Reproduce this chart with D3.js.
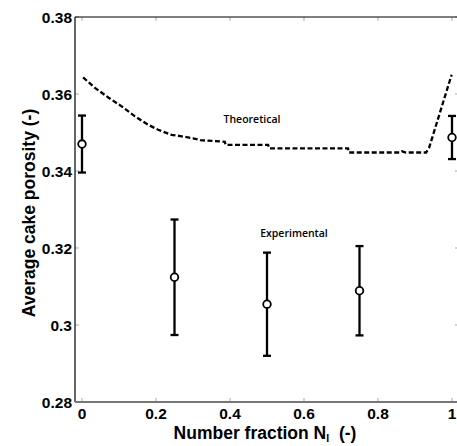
<!DOCTYPE html>
<html><head><meta charset="utf-8">
<script src="https://cdn.jsdelivr.net/npm/d3@7"></script>
<style>body{margin:0;background:#fff}svg{display:block}</style>
</head><body>
<svg id="c" width="457" height="446"></svg>
<script>
// Experimental data (mean ± error)
const expN = [0, 0.25, 0.5, 0.75, 1];
const expMean = [0.347, 0.3124, 0.3054, 0.3089, 0.3487];
const expErr = [0.0074, 0.0150, 0.0134, 0.0116, 0.0056];
// Theoretical curve
const theoN = [0.003, 0.035, 0.071, 0.107, 0.143, 0.179, 0.206, 0.242, 0.27, 0.30, 0.32, 0.386, 0.388, 0.503, 0.506, 0.719, 0.722, 0.86, 0.865, 0.875, 0.93, 0.938, 0.999];
const theoV = [0.3643, 0.3616, 0.3591, 0.3568, 0.3542, 0.3520, 0.3507, 0.3494, 0.3490, 0.3485, 0.3480, 0.3476, 0.3468, 0.3468, 0.3459, 0.3459, 0.3448, 0.3448, 0.3451, 0.3448, 0.3448, 0.3460, 0.3650];
const xTicks = [0, 0.2, 0.4, 0.6, 0.8, 1];
const yTicks = [0.28, 0.3, 0.32, 0.34, 0.36, 0.38];
const yTickLabels = ["0.28", "0.3", "0.32", "0.34", "0.36", "0.38"];

const svg = d3.select("#c");
const x = d3.scaleLinear().domain([0, 1]).range([82, 452]);
const y = d3.scaleLinear().domain([0.28, 0.38]).range([402, 17]);
const L = 75, R = 459, T = 17, B = 402;
const font = "Arial, 'Liberation Sans', sans-serif";

// ticks (inward, faint gray)
const tg = svg.append("g").attr("stroke", "#aaa").attr("stroke-width", 1);
xTicks.forEach(t => {
  tg.append("line").attr("x1", x(t)).attr("x2", x(t)).attr("y1", B).attr("y2", B - 4);
  tg.append("line").attr("x1", x(t)).attr("x2", x(t)).attr("y1", T).attr("y2", T + 4);
});
yTicks.forEach(t => {
  tg.append("line").attr("x1", L).attr("x2", L + 4).attr("y1", y(t)).attr("y2", y(t));
  tg.append("line").attr("x1", R - 4).attr("x2", R).attr("y1", y(t)).attr("y2", y(t));
});

// box
svg.append("line").attr("x1", L).attr("x2", R).attr("y1", T).attr("y2", T).attr("stroke", "#000").attr("stroke-width", 1.2);
svg.append("line").attr("x1", L).attr("x2", L).attr("y1", T).attr("y2", B).attr("stroke", "#000").attr("stroke-width", 1.2);
svg.append("line").attr("x1", L).attr("x2", R).attr("y1", B).attr("y2", B).attr("stroke", "#777").attr("stroke-width", 2);

// tick labels
svg.append("g").selectAll("text").data(xTicks).join("text")
  .attr("x", d => x(d)).attr("y", 419).attr("text-anchor", "middle")
  .attr("font-family", font).attr("font-weight", "bold").attr("font-size", 15.5)
  .text(d => String(d));
svg.append("g").selectAll("text").data(yTicks).join("text")
  .attr("x", 72).attr("y", d => y(d) + 5.5).attr("text-anchor", "end")
  .attr("font-family", font).attr("font-weight", "bold").attr("font-size", 15.5)
  .text((d, i) => yTickLabels[i]);

// axis titles
svg.append("text").attr("transform", "translate(35,213) rotate(-90)")
  .attr("text-anchor", "middle").attr("font-family", font).attr("font-weight", "bold").attr("font-size", 17.5)
  .text("Average cake porosity (-)");
const xl = svg.append("text").attr("x", 265).attr("y", 439).attr("text-anchor", "middle")
  .attr("font-family", font).attr("font-weight", "bold").attr("font-size", 17.5);
xl.append("tspan").text("Number fraction N");
xl.append("tspan").attr("dy", 3).attr("font-size", 10.5).text("I");
xl.append("tspan").attr("dy", -3).text("\u00a0\u00a0(-)");

// theoretical line
const line = d3.line().x((d, i) => x(theoN[i])).y(d => y(d));
svg.append("path").attr("d", line(theoV)).attr("fill", "none").attr("stroke", "#000")
  .attr("stroke-width", 2.3).attr("stroke-dasharray", "5,2.5");

// error bars
const eg = svg.append("g").attr("stroke", "#000").attr("stroke-width", 2.3).attr("fill", "none");
expN.forEach((n, i) => {
  const cx = x(n), top = y(expMean[i] + expErr[i]), bot = y(expMean[i] - expErr[i]);
  eg.append("line").attr("x1", cx).attr("x2", cx).attr("y1", top).attr("y2", bot);
  eg.append("line").attr("x1", cx - 4).attr("x2", cx + 4).attr("y1", top).attr("y2", top);
  eg.append("line").attr("x1", cx - 4).attr("x2", cx + 4).attr("y1", bot).attr("y2", bot);
  eg.append("circle").attr("cx", cx).attr("cy", y(expMean[i])).attr("r", 3.8).attr("fill", "#fff").attr("stroke-width", 1.8);
});

// annotations
const af = "'Open Sans', 'Noto Sans', sans-serif";
svg.append("text").attr("x", 252).attr("y", 123).attr("text-anchor", "middle")
  .attr("font-family", af).attr("font-weight", 600).attr("font-size", 10.5).text("Theoretical");
svg.append("text").attr("x", 294).attr("y", 237).attr("text-anchor", "middle")
  .attr("font-family", af).attr("font-weight", 600).attr("font-size", 10.5).text("Experimental");
</script>
</body></html>
